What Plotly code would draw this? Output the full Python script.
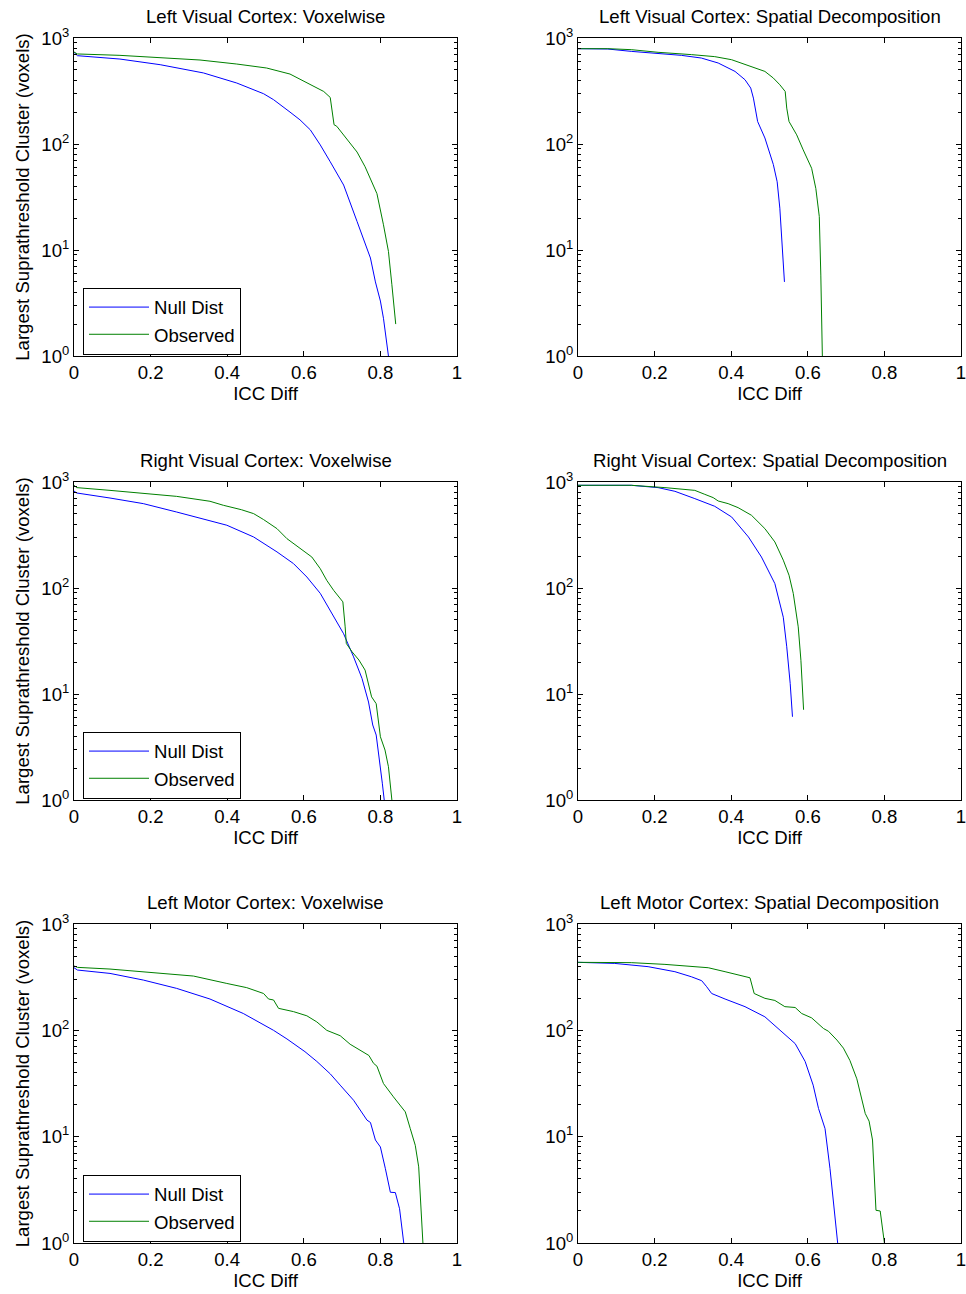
import plotly.graph_objects as go

# ---- data ----
TITLES = [
    "Left Visual Cortex: Voxelwise", "Left Visual Cortex: Spatial Decomposition",
    "Right Visual Cortex: Voxelwise", "Right Visual Cortex: Spatial Decomposition",
    "Left Motor Cortex: Voxelwise", "Left Motor Cortex: Spatial Decomposition",
]

lv_vox_null_x = [0, 0.009, 0.12, 0.225, 0.338, 0.425, 0.495, 0.521, 0.564, 0.59, 0.617, 0.643, 0.669,
                 0.704, 0.739, 0.756, 0.774, 0.787, 0.8, 0.808, 0.815, 0.821]
lv_vox_null_y = [733, 681, 633, 560, 468, 376, 298, 262, 200, 169, 136, 98, 68,
                 41, 18.6, 12.9, 8.4, 5.0, 3.3, 2.27, 1.47, 1.0]
lv_vox_obs_x = [0, 0.009, 0.12, 0.225, 0.329, 0.425, 0.503, 0.564, 0.617, 0.652, 0.669, 0.679, 0.686,
                0.713, 0.739, 0.76, 0.791, 0.808, 0.821, 0.83, 0.84]
lv_vox_obs_y = [738, 707, 686, 656, 620, 568, 521, 457, 362, 313, 275, 152, 147,
                110, 84, 61, 34, 17.3, 9.7, 4.7, 2.0]

lv_sd_null_x = [0, 0.078, 0.139, 0.209, 0.27, 0.322, 0.366, 0.41, 0.436, 0.451, 0.458, 0.469, 0.488,
                0.51, 0.52, 0.527, 0.533, 0.539]
lv_sd_null_y = [793, 787, 748, 711, 686, 647, 581, 484, 404, 337, 271, 163, 114,
                64, 44, 24.8, 11.2, 5.0]
lv_sd_obs_x = [0, 0.078, 0.139, 0.209, 0.296, 0.357, 0.401, 0.453, 0.488, 0.51, 0.527, 0.541, 0.545,
               0.551, 0.571, 0.588, 0.61, 0.621, 0.63, 0.634, 0.638]
lv_sd_obs_y = [793, 793, 776, 733, 697, 667, 624, 540, 484, 419, 362, 313, 218,
               163, 122, 88, 59, 38, 20.7, 5.8, 1.0]

rv_vox_null_x = [0, 0.007, 0.094, 0.181, 0.268, 0.355, 0.399, 0.469, 0.53, 0.573, 0.608, 0.643, 0.678,
                 0.704, 0.73, 0.752, 0.769, 0.78, 0.789, 0.798, 0.805, 0.81]
rv_vox_null_y = [822, 788, 706, 625, 521, 435, 391, 303, 219, 170, 127, 89, 53,
                 37, 22.4, 14, 8.4, 5.1, 4.1, 2.38, 1.44, 1.0]
rv_vox_obs_x = [0, 0.007, 0.094, 0.181, 0.268, 0.355, 0.39, 0.437, 0.469, 0.495, 0.53, 0.556, 0.599,
                0.621, 0.643, 0.66, 0.678, 0.695, 0.702, 0.708, 0.711, 0.726, 0.744, 0.76, 0.777,
                0.789, 0.8, 0.812, 0.821, 0.83]
rv_vox_obs_y = [931, 885, 834, 787, 732, 658, 603, 548, 503, 442, 363, 292, 227,
                196, 152, 118, 95, 79, 74, 43, 30, 25, 20.9, 16.8, 9.4,
                8.1, 3.95, 2.96, 2.06, 1.0]

rv_sd_null_x = [0, 0.139, 0.209, 0.253, 0.305, 0.357, 0.401, 0.445, 0.479, 0.514, 0.536, 0.545, 0.554, 0.56]
rv_sd_null_y = [931, 931, 885, 817, 697, 590, 468, 303, 196, 110, 53, 27.9, 12.6, 6.1]
rv_sd_obs_x = [0, 0.139, 0.227, 0.305, 0.331, 0.353, 0.366, 0.392, 0.418, 0.453, 0.488, 0.514, 0.536,
               0.551, 0.562, 0.575, 0.582, 0.589]
rv_sd_obs_y = [931, 931, 885, 834, 765, 712, 662, 625, 573, 485, 363, 272, 183,
               132, 89, 43, 20.8, 7.1]

lm_vox_null_x = [0, 0.009, 0.094, 0.181, 0.268, 0.355, 0.442, 0.521, 0.556, 0.603, 0.634, 0.669, 0.695,
                 0.73, 0.765, 0.774, 0.787, 0.8, 0.813, 0.826, 0.839, 0.85, 0.861]
lm_vox_null_y = [388, 369, 343, 297, 248, 197, 144, 100, 83, 63, 51, 39, 30.5,
                 22, 14.3, 13.6, 9.3, 8.0, 5.0, 3.0, 2.98, 2.1, 1.0]
lm_vox_obs_x = [0, 0.009, 0.094, 0.207, 0.312, 0.399, 0.451, 0.495, 0.508, 0.521, 0.534, 0.573, 0.608,
                0.634, 0.66, 0.695, 0.721, 0.77, 0.782, 0.791, 0.808, 0.834, 0.865, 0.878, 0.891,
                0.9, 0.911]
lm_vox_obs_y = [403, 391, 377, 351, 324, 276, 252, 222, 197, 193, 161, 150, 137,
                120, 100, 89, 74, 58, 49, 46, 31.6, 23.7, 17.1, 11.9, 8.3,
                5.2, 1.0]

lm_sd_null_x = [0, 0.096, 0.183, 0.253, 0.296, 0.323, 0.336, 0.349, 0.384, 0.436, 0.488, 0.523, 0.567,
                0.593, 0.614, 0.628, 0.645, 0.658, 0.667, 0.678]
lm_sd_null_y = [436, 426, 397, 356, 319, 293, 257, 222, 197, 167, 134, 104, 75,
                51, 30.5, 18.4, 11.9, 5.0, 2.43, 1.0]
lm_sd_obs_x = [0, 0.139, 0.227, 0.34, 0.384, 0.427, 0.449, 0.46, 0.488, 0.514, 0.54, 0.567, 0.584,
               0.61, 0.641, 0.654, 0.676, 0.693, 0.71, 0.728, 0.75, 0.76, 0.769, 0.778, 0.789, 0.8]
lm_sd_obs_y = [436, 433, 417, 388, 356, 326, 312, 222, 200, 191, 167, 164, 144,
               131, 104, 98, 81, 68, 52, 35, 16.5, 14, 9.3, 2.03, 2.0, 1.0]

PANELS = [
    (lv_vox_null_x, lv_vox_null_y, lv_vox_obs_x, lv_vox_obs_y),
    (lv_sd_null_x, lv_sd_null_y, lv_sd_obs_x, lv_sd_obs_y),
    (rv_vox_null_x, rv_vox_null_y, rv_vox_obs_x, rv_vox_obs_y),
    (rv_sd_null_x, rv_sd_null_y, rv_sd_obs_x, rv_sd_obs_y),
    (lm_vox_null_x, lm_vox_null_y, lm_vox_obs_x, lm_vox_obs_y),
    (lm_sd_null_x, lm_sd_null_y, lm_sd_obs_x, lm_sd_obs_y),
]

X_TICKS = [0, 0.2, 0.4, 0.6, 0.8, 1]
X_TICKTEXT = ["0", "0.2", "0.4", "0.6", "0.8", "1"]
Y_TICKS = [1, 10, 100, 1000]
Y_TICKTEXT = ["10<sup>0</sup>", "10<sup>1</sup>", "10<sup>2</sup>", "10<sup>3</sup>"]
Y_MINOR = [m * d for d in (1, 10, 100) for m in range(2, 10)]

W, H = 966, 1294
FONT = "Liberation Sans, Arial, Helvetica, sans-serif"
FS = 18.6
BLUE = "#0000ff"
GREEN = "#008000"

# plot-area pixel boxes (left, right) and (top, bottom)
COLS = [(74, 457), (578, 961)]
ROWS = [(38, 356), (482, 800), (924, 1243)]

fig = go.Figure()
layout = dict(
    template="none",
    width=W, height=H,
    margin=dict(l=0, r=0, t=0, b=0, autoexpand=False),
    paper_bgcolor="white", plot_bgcolor="white",
    font=dict(family=FONT, size=FS, color="black"),
    annotations=[],
)

for i, (nx, ny, ox, oy) in enumerate(PANELS):
    r, c = divmod(i, 2)
    n = i + 1
    sfx = "" if n == 1 else str(n)
    (x0, x1), (y0, y1) = COLS[c], ROWS[r]
    legend_id = None
    if c == 0:
        legend_id = "legend" if r == 0 else f"legend{r + 1}"

    for xs, ys, name, col in [(nx, ny, "Null Dist", BLUE), (ox, oy, "Observed", GREEN)]:
        fig.add_trace(go.Scatter(
            x=xs, y=ys, mode="lines", name=name,
            line=dict(color=col, width=1),
            xaxis="x" + sfx, yaxis="y" + sfx,
            showlegend=legend_id is not None,
            legend=legend_id if legend_id else "legend",
        ))

    axis_common = dict(
        showline=True, linecolor="black", linewidth=1, mirror="ticks",
        ticks="inside", ticklen=5, tickcolor="black", tickwidth=1,
        showgrid=False, zeroline=False, automargin=False,
        ticklabeloverflow="allow",
        tickfont=dict(family=FONT, size=FS, color="black"),
    )
    layout["xaxis" + sfx] = dict(
        axis_common,
        domain=[x0 / W, x1 / W], anchor="y" + sfx, range=[0, 1],
        tickvals=X_TICKS, ticktext=X_TICKTEXT,
        title=dict(text="ICC Diff", standoff=2, font=dict(size=FS)),
    )
    yax = dict(
        axis_common,
        domain=[1 - y1 / H, 1 - y0 / H], anchor="x" + sfx, type="log", range=[0, 3],
        tickvals=Y_TICKS, ticktext=Y_TICKTEXT,
        minor=dict(ticks="inside", ticklen=3, tickcolor="black", tickwidth=1,
                   tickvals=Y_MINOR, showgrid=False),
    )
    if c == 0:
        yax["title"] = dict(text="Largest Suprathreshold Cluster (voxels)", standoff=6,
                            font=dict(size=FS))
    layout["yaxis" + sfx] = yax
    layout["annotations"].append(dict(
        text=TITLES[i], xref="paper", yref="paper",
        x=(x0 + x1) / 2 / W, y=1 - y0 / H, xanchor="center", yanchor="bottom",
        yshift=9, showarrow=False, font=dict(family=FONT, size=FS, color="black"),
    ))

    if legend_id:
        # reference legend box spans roughly 9..61 px above the x axis
        layout[legend_id] = dict(
            x=(x0 + 9) / W, y=1 - (y1 - 35) / H, xanchor="left", yanchor="middle",
            bgcolor="white", bordercolor="black", borderwidth=1,
            font=dict(family=FONT, size=FS, color="black"),
            tracegroupgap=0, itemwidth=60,
        )

fig.update_layout(**layout)
# drop the browser's default body margin so the figure sits at the page origin
fig.write_html("out.html", config={"displayModeBar": False},
               post_script="document.body.style.margin='0px';")
